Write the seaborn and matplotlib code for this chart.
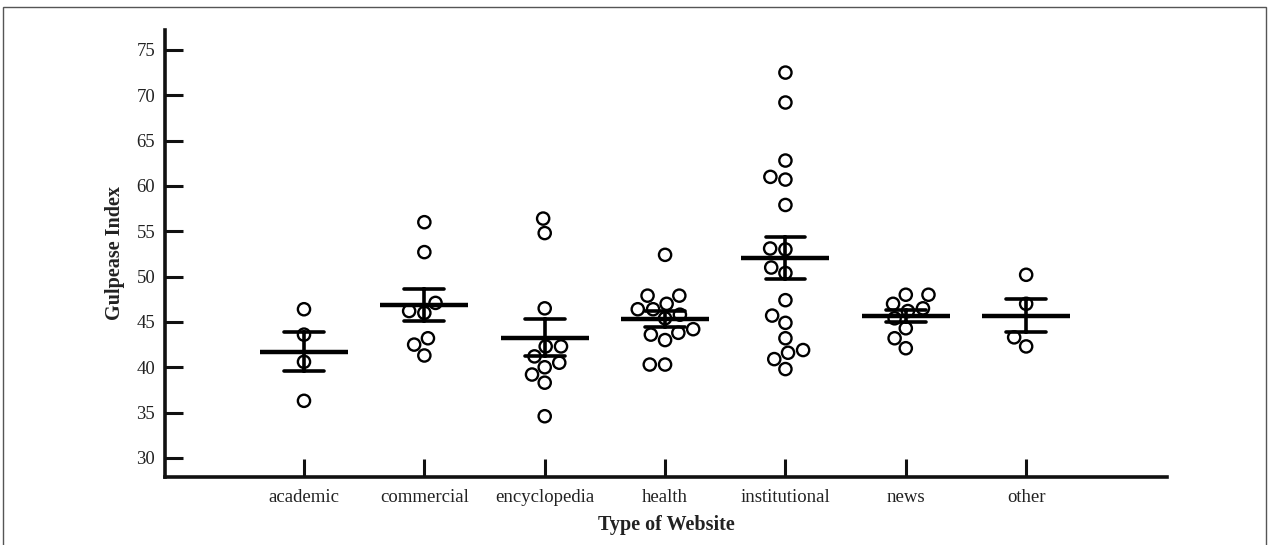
# Gulpease index by type of website: individual scores + mean +/- SEM

import pandas as pd
import seaborn as sns
import matplotlib.pyplot as plt
from matplotlib.patches import Rectangle

#------------------------------------------------------------------------------
# data
#------------------------------------------------------------------------------

categories = ['academic', 'commercial', 'encyclopedia', 'health',
              'institutional', 'news', 'other']

academic = [46.4, 43.6, 40.6, 36.3]
commercial = [56.0, 52.7, 47.1, 46.2, 46.0, 43.2, 42.5, 41.3]
encyclopedia = [56.4, 54.8, 46.5, 42.3, 42.3, 41.2, 40.5, 40.0, 39.2, 38.3, 34.6]
health = [52.4, 47.9, 47.9, 47.0, 46.4, 46.4, 45.8, 45.4, 44.2, 43.8, 43.6,
          43.0, 40.3, 40.3]
institutional = [72.5, 69.2, 62.8, 61.0, 60.7, 57.9, 53.1, 53.0, 51.0, 50.4,
                 47.4, 45.7, 44.9, 43.2, 41.9, 41.6, 40.9, 39.8]
news = [48.0, 48.0, 47.0, 46.5, 46.2, 45.4, 44.3, 43.2, 42.1]
other = [50.2, 47.0, 43.3, 42.3]

y_ticks = [30, 35, 40, 45, 50, 55, 60, 65, 70, 75]

groups = [academic, commercial, encyclopedia, health, institutional, news, other]
df = pd.DataFrame({
    'type': [c for c, g in zip(categories, groups) for _ in g],
    'gulpease': [v for g in groups for v in g],
})

#------------------------------------------------------------------------------
# plot
#------------------------------------------------------------------------------

sns.set_theme(style='white')
plt.rcParams['font.family'] = ['Liberation Serif', 'DejaVu Serif']

fig = plt.figure(figsize=(12.69, 5.45), dpi=100)
ax = fig.add_axes([0.130, 0.1248, 0.7896, 0.8202])

sns.swarmplot(data=df, x='type', y='gulpease', order=categories,
              color='white', edgecolor='black', linewidth=1.7, size=8.8,
              ax=ax, zorder=2)
for coll in ax.collections:
    coll.set_facecolor('none')

sns.pointplot(data=df, x='type', y='gulpease', order=categories,
              errorbar='se', capsize=0.33, color='black',
              marker='_', linestyle='none', markersize=64,
              markeredgewidth=3.2, err_kws={'linewidth': 2.6},
              ax=ax, zorder=3)

ax.set_xlim(-1.155, 7.17)
ax.set_ylim(27.9, 77.2)
ax.set_yticks(y_ticks)

sns.despine(ax=ax)
for side in ['left', 'bottom']:
    ax.spines[side].set_linewidth(2.6)
    ax.spines[side].set_color('#111111')

ax.tick_params(axis='both', direction='in', length=13, width=2.2,
               bottom=True, left=True, color='#111111',
               labelsize=13.5, labelcolor='#222222')
ax.tick_params(axis='x', pad=9)
ax.tick_params(axis='y', pad=7)

ax.set_xlabel('Type of Website', fontsize=14.5, fontweight='bold',
              color='#222222', labelpad=6)
ax.set_ylabel('Gulpease Index', fontsize=14.5, fontweight='bold',
              color='#222222', labelpad=8)

# thin frame around the figure (open at the bottom, as in the source)
fig.patches.append(Rectangle((3 / 1269, -0.05), 1263 / 1269, 1.05 - 7 / 545,
                             transform=fig.transFigure, fill=False,
                             edgecolor='#555555', linewidth=1.0,
                             clip_on=False))

plt.savefig('out.png', dpi=100)
